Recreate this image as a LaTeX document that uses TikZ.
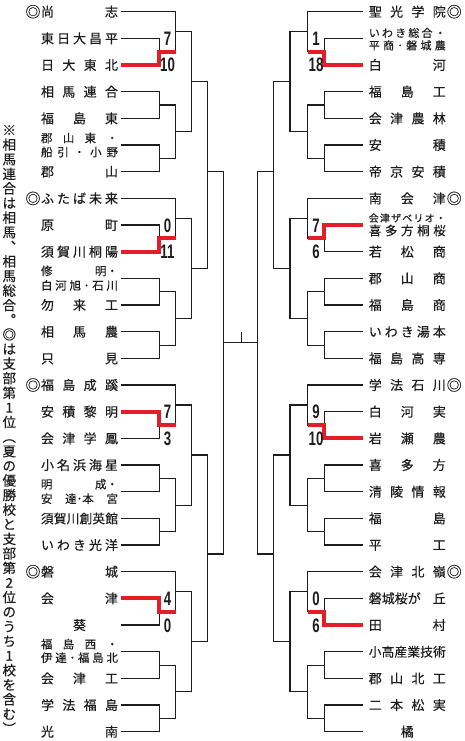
\documentclass[tikz,border=0pt]{standalone}
\usepackage{fontspec}
\usepackage{graphicx}
\setmainfont{Noto Sans CJK JP}[FakeBold=0.3]
\newfontfamily\scorefont{Liberation Sans}
\definecolor{winred}{RGB}{228,30,38}
\definecolor{ink}{RGB}{30,28,28}

% spread characters evenly over the name width
\def\spreadaux#1#2{#1\ifx\relax#2\else\hfill\expandafter\spreadaux\expandafter#2\fi}
\newcommand\sprin[1]{\spreadaux#1\relax}
\newcommand\spr[1]{\makebox[77pt][s]{\sprin{#1}}}
% two-line name: size1, em-centre offset up (pt), text1, size2, offset, text2
\newcommand\twoln[6]{%
  \makebox[0pt][l]{\raisebox{\dimexpr 4.94pt+#2pt-#1pt*38/100\relax}{\fontsize{#1}{#1}\selectfont\makebox[77pt][s]{#3}}}%
  \raisebox{\dimexpr 4.94pt+#5pt-#4pt*38/100\relax}{\fontsize{#4}{#4}\selectfont\makebox[77pt][s]{#6}}}
\newcommand\scr[1]{\scalebox{0.68}[1]{#1}}

\tikzset{
  conn/.style={line width=1.1pt, ink, line join=miter},
  win/.style={line width=4pt, winred, line join=miter},
  lname/.style={inner sep=0pt, outer xsep=2.7pt, outer ysep=0pt, text height=11.44pt, text depth=1.56pt, text=ink, font=\fontsize{13}{13}\selectfont},
  rname/.style={lname, outer xsep=5.5pt},
  dmark/.style={inner sep=0pt, text height=13.2pt, text depth=1.8pt, text=ink, font=\fontsize{15}{15}\selectfont},
  score/.style={inner sep=0pt, text height=14pt, text depth=0pt, text=ink, font=\scorefont\bfseries\fontsize{19.5}{19.5}\selectfont},
  vchar/.style={inner sep=0pt, text height=11.88pt, text depth=1.62pt, text=ink, font=\fontsize{13.5}{13.5}\selectfont},
}

\newcommand\drawgroup[3]{%
  \draw[conn] (#1#2-0.#3) -| (#1j#2) |- (#1a#2);
  \draw[conn] (#1#2-1.#3) -| (#1a#2) |- (#1#2-2.#3);
  \draw[conn] (#1#2-3.#3) -| (#1b#2) |- (#1#2-4.#3);
  \draw[conn] (#1#2-5.#3) -| (#1c#2) |- (#1#2-6.#3);
  \draw[conn] (#1b#2) -| (#1k#2) |- (#1c#2);
  \draw[conn] (#1j#2) -| (#1s#2) |- (#1k#2);
}

\begin{document}
\begin{tikzpicture}[x=1pt,y=-1pt]
\useasboundingbox (0,0) rectangle (465,741);

% ---------------- left teams ----------------
\node[lname] (L1-0) at (79.5,11.7)  {\spr{尚志}};
\node[lname] (L1-1) at (79.5,38.4)  {\spr{東日大昌平}};
\node[lname] (L1-2) at (79.5,65)    {\spr{日大東北}};
\node[lname] (L1-3) at (79.5,91.7)  {\spr{相馬連合}};
\node[lname] (L1-4) at (79.5,118.4) {\spr{福島東}};
\node[lname] (L1-5) at (79.5,145)   {\twoln{11.5}{7}{\sprin{郡山東・}}{11.5}{-7}{\sprin{船引・小野}}};
\node[lname] (L1-6) at (79.5,171.7) {\spr{郡山}};

\node[lname] (L2-0) at (79.5,198.4) {\spr{ふたば未来}};
\node[lname] (L2-1) at (79.5,225)   {\spr{原町}};
\node[lname] (L2-2) at (79.5,251.7) {\spr{須賀川桐陽}};
\node[lname] (L2-3) at (79.5,278.4) {\twoln{11.5}{7.5}{修\hfill 明・}{11.5}{-7}{\sprin{白河旭･石川}}};
\node[lname] (L2-4) at (79.5,305)   {\spr{勿来工}};
\node[lname] (L2-5) at (79.5,331.7) {\spr{相馬農}};
\node[lname] (L2-6) at (79.5,358.4) {\spr{只見}};

\node[lname] (L3-0) at (79.5,385)   {\spr{福島成蹊}};
\node[lname] (L3-1) at (79.5,411.7) {\spr{安積黎明}};
\node[lname] (L3-2) at (79.5,438.4) {\spr{会津学鳳}};
\node[lname] (L3-3) at (79.5,465)   {\spr{小名浜海星}};
\node[lname] (L3-4) at (79.5,491.7) {\twoln{11.5}{7.5}{明\hfill 成・}{11.5}{-7}{安\hfill 達･本\hfill 宮}};
\node[lname] (L3-5) at (79.5,518.4) {\fontsize{12.7}{12.7}\selectfont\spr{須賀川創英館}};
\node[lname] (L3-6) at (79.5,545)   {\spr{いわき光洋}};

\node[lname] (L4-0) at (79.5,571.7) {\spr{磐城}};
\node[lname] (L4-1) at (79.5,598.4) {\spr{会津}};
\node[lname] (L4-2) at (79.5,625)   {\makebox[77pt][c]{葵}};
\node[lname] (L4-3) at (79.5,651.7) {\twoln{11.5}{7.5}{\sprin{福島西・}}{11.5}{-6}{\sprin{伊達･福島北}}};
\node[lname] (L4-4) at (79.5,678.4) {\spr{会津工}};
\node[lname] (L4-5) at (79.5,705)   {\spr{学法福島}};
\node[lname] (L4-6) at (79.5,731.7) {\spr{光南}};

% ---------------- right teams ----------------
\node[rname] (R1-0) at (407.3,11.7)  {\spr{聖光学院}};
\node[rname] (R1-1) at (407.3,38.4)  {\twoln{11}{5.5}{\sprin{いわき総合・}}{11}{-7}{\sprin{平商･磐城農}}};
\node[rname] (R1-2) at (407.3,65)    {\spr{白河}};
\node[rname] (R1-3) at (407.3,91.7)  {\spr{福島工}};
\node[rname] (R1-4) at (407.3,118.4) {\spr{会津農林}};
\node[rname] (R1-5) at (407.3,145)   {\spr{安積}};
\node[rname] (R1-6) at (407.3,171.7) {\spr{帝京安積}};

\node[rname] (R2-0) at (407.3,198.4) {\spr{南会津}};
\node[rname] (R2-1) at (407.3,225)   {\twoln{10}{7}{\sprin{会津ザベリオ・}}{12.5}{-5.5}{\sprin{喜多方桐桜}}};
\node[rname] (R2-2) at (407.3,251.7) {\spr{若松商}};
\node[rname] (R2-3) at (407.3,278.4) {\spr{郡山商}};
\node[rname] (R2-4) at (407.3,305)   {\spr{福島商}};
\node[rname] (R2-5) at (407.3,331.7) {\spr{いわき湯本}};
\node[rname] (R2-6) at (407.3,358.4) {\spr{福島高専}};

\node[rname] (R3-0) at (407.3,385)   {\spr{学法石川}};
\node[rname] (R3-1) at (407.3,411.7) {\spr{白河実}};
\node[rname] (R3-2) at (407.3,438.4) {\spr{岩瀬農}};
\node[rname] (R3-3) at (407.3,465)   {\spr{喜多方}};
\node[rname] (R3-4) at (407.3,491.7) {\spr{清陵情報}};
\node[rname] (R3-5) at (407.3,518.4) {\spr{福島}};
\node[rname] (R3-6) at (407.3,545)   {\spr{平工}};

\node[rname] (R4-0) at (407.3,571.7) {\spr{会津北嶺}};
\node[rname] (R4-1) at (407.3,598.4) {\makebox[77pt][s]{磐城桜が\hfill 丘}};
\node[rname] (R4-2) at (407.3,625)   {\spr{田村}};
\node[rname] (R4-3) at (407.3,651.7) {\fontsize{12.7}{12.7}\selectfont\spr{小高産業技術}};
\node[rname] (R4-4) at (407.3,678.4) {\spr{郡山北工}};
\node[rname] (R4-5) at (407.3,705)   {\spr{二本松実}};
\node[rname] (R4-6) at (407.3,731.7) {\makebox[77pt][c]{橘}};

% ---------------- seed marks ----------------
\node[dmark] (mL1) at (33,11.7)    {◎};
\node[dmark] (mL2) at (33,198.4)   {◎};
\node[dmark] (mL3) at (33,385)     {◎};
\node[dmark] (mL4) at (33,571.7)   {◎};
\node[dmark] (mR1) at (454.2,11.7)  {◎};
\node[dmark] (mR2) at (454.2,198.4) {◎};
\node[dmark] (mR3) at (454.2,385)   {◎};
\node[dmark] (mR4) at (454.2,571.7) {◎};

% ---------------- junction coordinates ----------------
% left
\coordinate (La1) at (159.3,51.7);  \coordinate (Lb1) at (159.3,105.05); \coordinate (Lc1) at (159.3,158.35);
\coordinate (Lj1) at (175.7,31.7);  \coordinate (Lk1) at (175.7,131.7);  \coordinate (Ls1) at (191.7,81.7);
\coordinate (La2) at (159.3,238.35); \coordinate (Lb2) at (159.3,291.7); \coordinate (Lc2) at (159.3,345.05);
\coordinate (Lj2) at (175.7,218.4); \coordinate (Lk2) at (175.7,318.4);  \coordinate (Ls2) at (191.7,268.4);
\coordinate (La3) at (159.3,425.05); \coordinate (Lb3) at (159.3,478.35); \coordinate (Lc3) at (159.3,531.7);
\coordinate (Lj3) at (175.7,405);   \coordinate (Lk3) at (175.7,505.05); \coordinate (Ls3) at (191.7,455);
\coordinate (La4) at (159.3,611.7); \coordinate (Lb4) at (159.3,665.05); \coordinate (Lc4) at (159.3,718.35);
\coordinate (Lj4) at (175.7,591.7); \coordinate (Lk4) at (175.7,691.7);  \coordinate (Ls4) at (191.7,641.7);
% right
\coordinate (Ra1) at (324.3,51.7);  \coordinate (Rb1) at (324.3,105.05); \coordinate (Rc1) at (324.3,158.35);
\coordinate (Rj1) at (307.7,31.7);  \coordinate (Rk1) at (307.7,131.7);  \coordinate (Rs1) at (290,81.7);
\coordinate (Ra2) at (324.3,238.35); \coordinate (Rb2) at (324.3,291.7); \coordinate (Rc2) at (324.3,345.05);
\coordinate (Rj2) at (307.7,218.4); \coordinate (Rk2) at (307.7,318.4);  \coordinate (Rs2) at (290,268.4);
\coordinate (Ra3) at (324.3,425.05); \coordinate (Rb3) at (324.3,478.35); \coordinate (Rc3) at (324.3,531.7);
\coordinate (Rj3) at (307.7,405);   \coordinate (Rk3) at (307.7,505.05); \coordinate (Rs3) at (290,455);
\coordinate (Ra4) at (324.3,611.7); \coordinate (Rb4) at (324.3,665.05); \coordinate (Rc4) at (324.3,718.35);
\coordinate (Rj4) at (307.7,591.7); \coordinate (Rk4) at (307.7,691.7);  \coordinate (Rs4) at (290,641.7);
% semifinal / final
\coordinate (Lt) at (207.5,171.7); \coordinate (Lu) at (207.5,554); \coordinate (Lf) at (223.3,342.3);
\coordinate (Rt) at (273.3,171.7); \coordinate (Ru) at (273.3,554); \coordinate (Rf) at (257.3,342.3);
\coordinate (tk) at (241.7,332.3);

% ---------------- bracket lines ----------------
\drawgroup{L}{1}{east}
\drawgroup{L}{2}{east}
\drawgroup{L}{3}{east}
\drawgroup{L}{4}{east}
\drawgroup{R}{1}{west}
\drawgroup{R}{2}{west}
\drawgroup{R}{3}{west}
\drawgroup{R}{4}{west}

\draw[conn] (Ls1) -| (Lt) |- (Ls2);
\draw[conn] (Ls3) -| (Lu) |- (Ls4);
\draw[conn] (Lt) -| (Lf) |- (Lu);
\draw[conn] (Rs1) -| (Rt) |- (Rs2);
\draw[conn] (Rs3) -| (Ru) |- (Rs4);
\draw[conn] (Rt) -| (Rf) |- (Ru);
\draw[conn] (Lf) -- (Rf);
\draw[conn] (tk) -- (tk |- Lf);

% ---------------- winners (red) ----------------
\draw[win] (L1-2.east) -| (La1) -- (La1 -| Lj1);
\draw[win] (L2-2.east) -| (La2) -- (La2 -| Lj2);
\draw[win] (L3-1.east) -| (La3) -- (La3 -| Lj3);
\draw[win] (L4-1.east) -| (La4) -- (La4 -| Lj4);
\draw[win] (R1-2.west) -| (Ra1) -- (Ra1 -| Rj1);
\draw[win] (R2-1.west) -| (Ra2) -- (Ra2 -| Rj2);
\draw[win] (R3-2.west) -| (Ra3) -- (Ra3 -| Rj3);
\draw[win] (R4-2.west) -| (Ra4) -- (Ra4 -| Rj4);

% ---------------- scores ----------------
\node[score] (sL1a) at (167.5,38.4)  {\scr{7}};
\node[score] (sL1b) at (167.5,65)    {\scr{10}};
\node[score] (sL2a) at (167.5,225)   {\scr{0}};
\node[score] (sL2b) at (167.5,251.7) {\scr{11}};
\node[score] (sL3a) at (167.5,411.7) {\scr{7}};
\node[score] (sL3b) at (167.5,438.4) {\scr{3}};
\node[score] (sL4a) at (167.5,598.4) {\scr{4}};
\node[score] (sL4b) at (167.5,625)   {\scr{0}};
\node[score] (sR1a) at (316,38.4)  {\scr{1}};
\node[score] (sR1b) at (316,65)    {\scr{18}};
\node[score] (sR2a) at (316,225)   {\scr{7}};
\node[score] (sR2b) at (316,251.7) {\scr{6}};
\node[score] (sR3a) at (316,411.7) {\scr{9}};
\node[score] (sR3b) at (316,438.4) {\scr{10}};
\node[score] (sR4a) at (316,598.4) {\scr{0}};
\node[score] (sR4b) at (316,625)   {\scr{6}};

% ---------------- vertical note ----------------
\foreach \ch [count=\i from 0] in {※,相,馬,連,合,は,相,馬,︑,相,馬,総,合,︒,◎,は,支,部,第,1,位,︵,夏,の,優,勝,校,と,支,部,第,2,位,の,う,ち,1,校,を,含,む,︶}
  \node[vchar] (v\i) at (9.3,{130+14.6*\i}) {\ch};
\end{tikzpicture}
\end{document}
